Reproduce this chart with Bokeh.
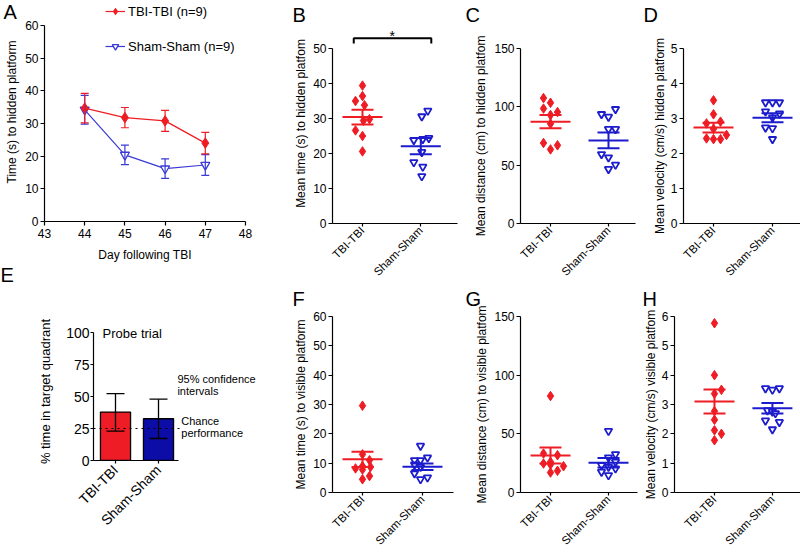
import math
from bokeh.plotting import figure
from bokeh.layouts import row, column
from bokeh.models import (ColumnDataSource, Whisker, TeeHead, Label, Legend,
                          LegendItem, FixedTicker, Range1d)
from bokeh.embed import file_html
from bokeh.resources import INLINE

# ------------------------------------------------------------------ data
groups = ["TBI-TBI", "Sham-Sham"]

# A - time to hidden platform across days (mean, SEM)
days = [44, 45, 46, 47]
a_tbi_mean = [34.7, 31.8, 30.8, 24.0]
a_tbi_sem = [4.5, 3.1, 3.2, 3.3]
a_sham_mean = [34.2, 20.4, 16.2, 17.3]
a_sham_sem = [4.4, 3.0, 3.0, 3.2]
a_xticks = [43, 44, 45, 46, 47, 48]
a_yticks = [0, 10, 20, 30, 40, 50, 60]

# B - mean time (s) to hidden platform
b_tbi = [39.4, 36.4, 35.0, 33.8, 29.8, 29.4, 26.6, 25.0, 20.6]
b_sham = [32.2, 30.6, 24.4, 24.1, 23.8, 20.4, 17.5, 16.2, 13.5]
b_mean = [30.4, 22.1]
b_sem = [2.1, 2.3]
b_yticks = [0, 10, 20, 30, 40, 50]

# C - mean distance (cm) to hidden platform
c_tbi = [107.5, 103.5, 98.5, 95.5, 93.0, 85.5, 69.0, 67.0, 63.5]
c_sham = [98.0, 93.7, 91.4, 80.9, 80.9, 59.4, 56.6, 50.3, 46.6]
c_mean = [87.3, 71.2]
c_sem = [5.6, 6.8]
c_yticks = [0, 50, 100, 150]

# D - mean velocity (cm/s), hidden platform
d_tbi = [3.52, 3.12, 2.91, 2.86, 2.70, 2.53, 2.43, 2.41, 2.41]
d_sham = [3.46, 3.46, 3.46, 3.20, 3.14, 3.03, 2.74, 2.72, 2.41]
d_mean = [2.74, 3.02]
d_sem = [0.14, 0.13]
d_yticks = [0, 1, 2, 3, 4, 5]

# E - probe trial, % time in target quadrant (mean, 95% CI)
e_mean = [37.8, 32.6]
e_ci_low = [22.9, 17.2]
e_ci_high = [52.3, 47.9]
e_chance = 25
e_yticks = [0, 25, 50, 75, 100]

# F - mean time (s) to visible platform
f_tbi = [29.6, 13.0, 11.0, 9.0, 8.7, 8.2, 7.8, 5.6, 4.5]
f_sham = [15.9, 11.9, 11.0, 11.0, 9.5, 8.7, 6.5, 5.1, 4.5]
f_mean = [11.3, 8.8]
f_sem = [2.6, 1.1]
f_yticks = [0, 10, 20, 30, 40, 50, 60]

# G - mean distance (cm) to visible platform
g_tbi = [82.2, 33.2, 31.8, 26.1, 24.7, 23.8, 22.4, 18.5, 17.0]
g_sham = [52.4, 32.6, 29.8, 26.1, 23.2, 21.8, 20.4, 17.6, 14.7]
g_mean = [31.6, 25.4]
g_sem = [6.8, 4.1]
g_yticks = [0, 50, 100, 150]

# H - mean velocity (cm/s), visible platform
h_tbi = [5.77, 4.00, 3.50, 3.37, 2.77, 2.48, 2.12, 2.00, 1.78]
h_sham = [3.55, 3.50, 3.55, 2.80, 2.75, 2.70, 2.45, 2.40, 2.15]
h_mean = [3.10, 2.87]
h_sem = [0.41, 0.18]
h_yticks = [0, 1, 2, 3, 4, 5, 6]

# ------------------------------------------------------------------ layout / style
# horizontal scatter offsets of the dots (pixels), purely visual
b_tbi_dx = [0, 0, -7, 2, 7, 1, -7, 0, 0]
b_sham_dx = [7, 1, 8, 2, -7, 1, -7, 2, 1]
c_tbi_dx = [-7, 0, -7, 7, 0, 0, -7, 7, 0]
c_sham_dx = [7, -7, 0, 0, 7, -7, 0, 7, 0]
d_tbi_dx = [0, 0, 7, -7, 0, 13, -7, 0, 7]
d_sham_dx = [-7, 0, 7, -7, 7, 0, -7, 0, 0]
f_tbi_dx = [0, 0, 7, 0, 8, -7, 0, 7, 0]
f_sham_dx = [-2, 5, -2, -8, -8, -2, -8, 5, -2]
g_tbi_dx = [0, -7, 7, 0, -7, 0, 13, 7, 0]
g_sham_dx = [0, 7, 0, 7, -7, 0, 7, -7, 0]
h_tbi_dx = [0, 0, 7, 0, 0, 0, 0, 7, 0]
h_sham_dx = [-7, 0, 7, -5, 0, 3, -7, 7, 0]

FONT = "Liberation Sans"
RED = "#EE1C24"
BLUE = "#1C1CCC"
BLUE_LINE = "#3A3AD6"
BLUE_BAR = "#0C0CA6"

TOP_H = 287
BOT_H = 270


def base_fig(w, h, left, top, fw, fh, xr, yr, xticks, yticks, ylabel,
             tick_fs="12px", title_fs="12px", ylab_standoff=2):
    p = figure(width=w, height=h, x_range=Range1d(*xr), y_range=Range1d(*yr),
               output_backend="svg", toolbar_location=None, frame_align=False,
               min_border_left=left, min_border_right=w - left - fw,
               min_border_top=top, min_border_bottom=h - top - fh)
    p.outline_line_color = None
    p.xgrid.visible = False
    p.ygrid.visible = False
    p.background_fill_color = "white"
    p.border_fill_color = "white"
    p.xaxis.ticker = FixedTicker(ticks=xticks)
    p.yaxis.ticker = FixedTicker(ticks=yticks)
    for ax in (p.xaxis[0], p.yaxis[0]):
        ax.axis_line_color = "black"
        ax.axis_line_width = 1.2
        ax.major_tick_line_color = "black"
        ax.major_tick_line_width = 1.2
        ax.major_tick_out = 4
        ax.major_tick_in = 0
        ax.minor_tick_line_color = None
        ax.major_label_text_font = FONT
        ax.major_label_text_font_size = tick_fs
        ax.major_label_text_color = "black"
        ax.axis_label_text_font = FONT
        ax.axis_label_text_font_size = title_fs
        ax.axis_label_text_font_style = "normal"
        ax.axis_label_text_color = "black"
    p.yaxis.major_label_standoff = 2
    p.yaxis.axis_label = ylabel
    p.yaxis.axis_label_standoff = ylab_standoff
    return p


def letter(p, ch, x, y, side="above"):
    # panel letter, placed in canvas pixels (kept in a side panel so it is not clipped)
    p.add_layout(Label(x=x, y=y, x_units="canvas", y_units="canvas", text=ch,
                       text_font=FONT, text_font_size="20px", text_color="black",
                       text_align="left", text_baseline="top"), side)


def cat_axis(p, fs="11.5px"):
    p.xaxis.major_label_overrides = {1: groups[0], 2: groups[1]}
    p.xaxis.major_label_orientation = math.pi / 4
    p.xaxis.major_label_standoff = 2
    p.xaxis.major_tick_out = 3
    p.xaxis.major_label_text_font_size = fs


def dot_panel(w, h, left, top, fw, fh, off, sp, ymax, yticks, ylabel,
              tbi, tbi_dx, sham, sham_dx, mean, sem, ylab_standoff=2, axis_top=None):
    start = 1 - off / sp
    p = base_fig(w, h, left, top, fw, fh, (start, start + fw / sp), (0, ymax),
                 [1, 2], yticks, ylabel, ylab_standoff=ylab_standoff)
    if axis_top is not None:
        p.yaxis.bounds = (0, axis_top)
    cat_axis(p)
    for cat, vals, dx, color, kind in ((1, tbi, tbi_dx, RED, "d"),
                                       (2, sham, sham_dx, BLUE, "t")):
        xs = [cat + d / sp for d in dx]
        if kind == "d":
            p.scatter(xs, vals, marker="diamond", size=9.5, fill_color=color, line_color=color)
        else:
            p.scatter(xs, vals, marker="inverted_triangle", size=7.5, fill_color="white",
                      line_color=color, line_width=1.8)
        m = mean[cat - 1]
        s = sem[cat - 1]
        p.scatter([cat], [m], marker="dash", size=40, line_color=color, line_width=2)
        src = ColumnDataSource(dict(x=[cat], lo=[m - s], hi=[m + s]))
        wk = Whisker(source=src, base="x", lower="lo", upper="hi", line_color=color,
                     line_width=2, level="annotation",
                     upper_head=TeeHead(size=22, line_color=color, line_width=2),
                     lower_head=TeeHead(size=22, line_color=color, line_width=2))
        p.add_layout(wk)
    return p


# ---------------- A  (frame extended upward so the legend sits inside it)
A = dict(w=280, h=TOP_H, left=44, top=2, fw=201, fh=219)
a_px = 196 / 60.0
pA = base_fig(A["w"], A["h"], A["left"], A["top"], A["fw"], A["fh"], (43, 48),
              (0, A["fh"] / a_px), a_xticks, a_yticks, "Time (s) to hidden platform",
              ylab_standoff=3)
pA.yaxis.bounds = (0, 60)
pA.xaxis.axis_label = "Day following TBI"
pA.xaxis.major_label_standoff = 3
pA.xaxis.axis_label_standoff = 7

sham_line = pA.line(days, a_sham_mean, line_color=BLUE_LINE, line_width=1.2)
sham_pts = pA.scatter(days, a_sham_mean, marker="inverted_triangle", size=9,
                      fill_color="white", line_color=BLUE_LINE, line_width=1.3)
src = ColumnDataSource(dict(x=days, lo=[m - s for m, s in zip(a_sham_mean, a_sham_sem)],
                            hi=[m + s for m, s in zip(a_sham_mean, a_sham_sem)]))
pA.add_layout(Whisker(source=src, base="x", lower="lo", upper="hi", line_color=BLUE_LINE,
                      line_width=1.2, level="annotation",
                      upper_head=TeeHead(size=8, line_color=BLUE_LINE, line_width=1.2),
                      lower_head=TeeHead(size=8, line_color=BLUE_LINE, line_width=1.2)))
tbi_line = pA.line(days, a_tbi_mean, line_color=RED, line_width=1.2)
src = ColumnDataSource(dict(x=days, lo=[m - s for m, s in zip(a_tbi_mean, a_tbi_sem)],
                            hi=[m + s for m, s in zip(a_tbi_mean, a_tbi_sem)]))
pA.add_layout(Whisker(source=src, base="x", lower="lo", upper="hi", line_color=RED,
                      line_width=1.2, level="annotation",
                      upper_head=TeeHead(size=8, line_color=RED, line_width=1.2),
                      lower_head=TeeHead(size=8, line_color=RED, line_width=1.2)))
tbi_pts = pA.scatter(days, a_tbi_mean, marker="diamond", size=10.5, fill_color=RED,
                     line_color=RED)

for lab, rends, vy in ((groups[0] + " (n=9)", [tbi_line, tbi_pts], 202),
                       (groups[1] + " (n=9)", [sham_line, sham_pts], 167)):
    leg = Legend(items=[LegendItem(label=lab, renderers=rends)], location=(61, vy),
                 border_line_color=None, background_fill_alpha=0, padding=0, margin=0,
                 spacing=0, glyph_width=20, glyph_height=16, label_height=16,
                 label_standoff=3, label_text_font=FONT, label_text_font_size="13px",
                 label_text_color="black")
    pA.add_layout(leg)
letter(pA, "A", 3, 0, side="right")
letter(pA, "E", 0, 263, side="right")

# ---------------- B  (frame extended upward for the significance bracket)
B = dict(w=180, h=TOP_H, left=52, top=23, fw=125, fh=200)
pB = dot_panel(B["w"], B["h"], B["left"], B["top"], B["fw"], B["fh"], 30, 58.3,
               B["fh"] / 3.5, b_yticks, "Mean time (s) to hidden platfom", b_tbi, b_tbi_dx,
               b_sham, b_sham_dx, b_mean, b_sem, ylab_standoff=2, axis_top=50)
pB.line([0.85, 0.85, 2.18, 2.18], [51.4, 52.9, 52.9, 51.4], line_color="black", line_width=2)
pB.add_layout(Label(x=1.51, y=55.8, text="*", text_font=FONT, text_font_size="14px",
                    text_align="center", text_baseline="top", text_color="black"))
letter(pB, "B", 12, 3)

# ---------------- C
C = dict(w=180, h=TOP_H, left=60, top=48, fw=115, fh=175)
pC = dot_panel(C["w"], C["h"], C["left"], C["top"], C["fw"], C["fh"], 30, 58.0, 150,
               c_yticks, "Mean distance (cm) to hidden platfom", c_tbi, c_tbi_dx, c_sham,
               c_sham_dx, c_mean, c_sem, ylab_standoff=3)
letter(pC, "C", 5, 3)

# ---------------- D
D = dict(w=160, h=TOP_H, left=43, top=48, fw=117, fh=175)
pD = dot_panel(D["w"], D["h"], D["left"], D["top"], D["fw"], D["fh"], 30, 59.0, 5,
               d_yticks, "Mean velocity (cm/s) hidden platform", d_tbi, d_tbi_dx, d_sham,
               d_sham_dx, d_mean, d_sem, ylab_standoff=1)
letter(pD, "D", 3, 3)

# ---------------- E  (frame extended right/up so the side notes sit inside it)
E = dict(w=280, h=BOT_H, left=93, top=35, fw=177, fh=138)
e_off, e_sp, e_px = 22.0, 43.0, 1.28
e_start = 1 - e_off / e_sp
pE = base_fig(E["w"], E["h"], E["left"], E["top"], E["fw"], E["fh"],
              (e_start, e_start + E["fw"] / e_sp), (0, E["fh"] / e_px), [1, 2], e_yticks,
              "% time in target quadrant", tick_fs="14px", title_fs="13px", ylab_standoff=10)
pE.yaxis.bounds = (0, 100)
pE.xaxis.bounds = (e_start, e_start + 85 / e_sp)
pE.yaxis.major_tick_out = 3
pE.yaxis.major_label_standoff = 1
cat_axis(pE, fs="14px")
pE.xaxis.major_label_standoff = 4
pE.vbar(x=[1, 2], top=e_mean, width=0.70, fill_color=[RED, BLUE_BAR],
        line_color="black", line_width=1.3)
src = ColumnDataSource(dict(x=[1, 2], lo=e_ci_low, hi=e_ci_high))
pE.add_layout(Whisker(source=src, base="x", lower="lo", upper="hi", line_color="black",
                      line_width=1.3, level="annotation",
                      upper_head=TeeHead(size=18, line_color="black", line_width=1.3),
                      lower_head=TeeHead(size=18, line_color="black", line_width=1.3)))
pE.line([e_start, e_start + 87 / e_sp], [e_chance, e_chance], line_color="black",
        line_dash="dotted", line_width=1.2)
for txt, x, y, fs in (("Probe trial", 0.70, 99.5, "13px"),
                      ("95% confidence", 2.44, 63.5, "11px"),
                      ("intervals", 2.44, 54.0, "11px"),
                      ("Chance", 2.53, 30.7, "11px"),
                      ("performance", 2.53, 21.3, "11px")):
    pE.add_layout(Label(x=x, y=y, text=txt, text_font=FONT, text_font_size=fs,
                        text_align="left", text_baseline="middle", text_color="black"))

# ---------------- F
F = dict(w=180, h=BOT_H, left=52, top=29, fw=121, fh=176)
pF = dot_panel(F["w"], F["h"], F["left"], F["top"], F["fw"], F["fh"], 30, 60.0, 60,
               f_yticks, "Mean time (s) to visible platform", f_tbi, f_tbi_dx, f_sham,
               f_sham_dx, f_mean, f_sem, ylab_standoff=2)
letter(pF, "F", 12, 0)

# ---------------- G
G = dict(w=180, h=BOT_H, left=60, top=29, fw=117, fh=176)
pG = dot_panel(G["w"], G["h"], G["left"], G["top"], G["fw"], G["fh"], 30, 58.0, 150,
               g_yticks, "Mean distance (cm) to visible platfom", g_tbi, g_tbi_dx, g_sham,
               g_sham_dx, g_mean, g_sem, ylab_standoff=2)
letter(pG, "G", 5, 0)

# ---------------- H
H = dict(w=160, h=BOT_H, left=33, top=29, fw=127, fh=176)
pH = dot_panel(H["w"], H["h"], H["left"], H["top"], H["fw"], H["fh"], 40.3, 58.4, 6,
               h_yticks, "Mean velocity (cm/s) visible platfom", h_tbi, h_tbi_dx, h_sham,
               h_sham_dx, h_mean, h_sem, ylab_standoff=1)
letter(pH, "H", 2, 0)

layout = column(row(pA, pB, pC, pD), row(pE, pF, pG, pH))
open("out.html", "w").write(file_html(layout, INLINE))
